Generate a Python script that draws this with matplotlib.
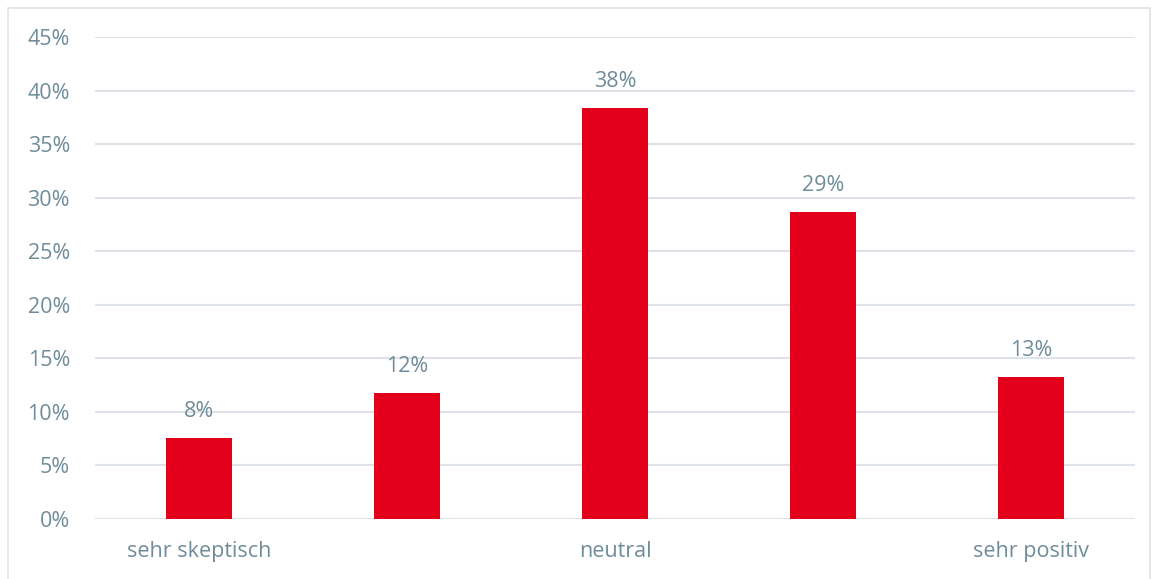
import matplotlib
matplotlib.use("Agg")
import matplotlib.pyplot as plt
from matplotlib.patches import Rectangle
from matplotlib.ticker import MultipleLocator, FuncFormatter

plt.rcParams['font.family'] = ['Open Sans', 'DejaVu Sans']

# survey answers, scale from "sehr skeptisch" to "sehr positiv"
categories = ["sehr skeptisch", "", "neutral", "", "sehr positiv"]
shares = [7.6, 11.8, 38.4, 28.7, 13.3]

bar_color = "#E2001A"
text_color = "#6F8C9B"
grid_color = "#DDE3E8"

fig = plt.figure(figsize=(11.55, 5.79), dpi=100)
ax = fig.add_axes([95 / 1155, 1 - 519 / 579, 1040 / 1155, 482 / 579])

# thin frame around the whole chart
fig.patches.append(Rectangle((8 / 1155, -0.05), 1142 / 1155, 1 - 8 / 579 + 0.05,
                             transform=fig.transFigure, fill=False,
                             edgecolor="#DCE3E8", linewidth=1.2))

x = range(len(categories))
bars = ax.bar(x, shares, width=0.32, color=bar_color, zorder=3)

for b, v in zip(bars, shares):
    ax.annotate(f"{round(v):.0f}%", (b.get_x() + b.get_width() / 2, v),
                xytext=(0, 11), textcoords="offset points",
                ha="center", va="bottom", fontsize=15.5, color=text_color)

ax.set_xlim(-0.5, 4.5)
ax.set_ylim(0, 45)
ax.yaxis.set_major_locator(MultipleLocator(5))
ax.yaxis.set_major_formatter(FuncFormatter(lambda v, _: f"{v:.0f}%"))
ax.set_xticks(list(x))
ax.set_xticklabels(categories)

ax.grid(axis="y", color=grid_color, linewidth=1.5, zorder=0)
ax.set_axisbelow(True)
for s in ax.spines.values():
    s.set_visible(False)
ax.tick_params(axis="both", length=0, labelsize=15.5, colors=text_color)
ax.tick_params(axis="y", pad=18)
ax.tick_params(axis="x", pad=16)

fig.savefig("out.png", dpi=100)
